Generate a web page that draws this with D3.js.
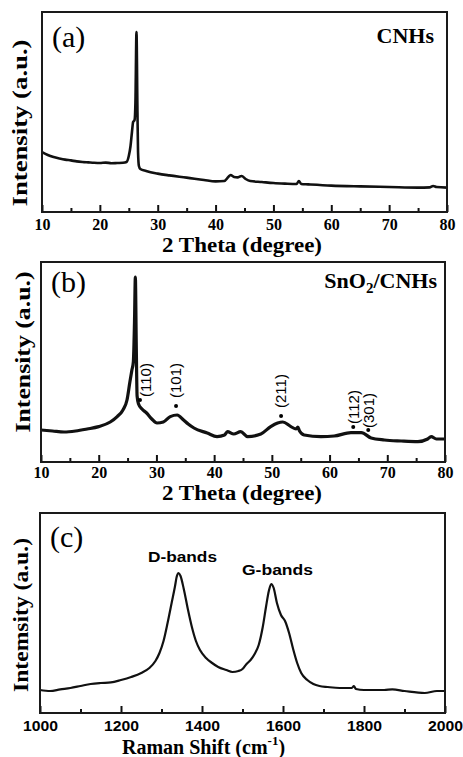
<!DOCTYPE html>
<html><head><meta charset="utf-8">
<script src="https://cdn.jsdelivr.net/npm/d3@7"></script>
<style>html,body{margin:0;padding:0;background:#fff;}</style>
</head><body>
<script>
// ---------- DATA ----------
// (a) XRD of CNHs: [2theta, intensity a.u.]
const xrdCNHs = [
 [10,30],[11,28.5],[12,27.5],[13,26.8],[14,26.2],[15,25.8],[16,25.3],[17,25],[18,24.8],[19,24.6],
 [20,24.5],[21,24.7],[22,24.4],[23,24.5],[24,24.6],[24.6,25],[25.0,28],[25.3,33],[25.55,40],[25.75,45],
 [26.0,46],[26.15,55],[26.33,90],[26.5,50],[26.6,30],[26.75,23],[27.0,21.5],[28,20.5],[30,19.2],[32,18.3],
 [35,17.2],[38,16],[40,15.3],[41.5,15.5],[42.2,17.5],[42.6,18.5],[43.2,17.5],[43.8,17.3],[44.5,18],[45.2,16.5],
 [46,15.5],[48,15],[50,14.5],[52,14.2],[54,14],[54.4,15.5],[54.8,14],[56,13.8],[60,13.2],[65,12.8],
 [70,12.5],[75,12.2],[77,12.3],[77.6,13],[78.2,12.5],[80,12.2]
];
// (b) XRD of SnO2/CNHs
const xrdSnO2 = [
 [10,16],[12,15.5],[14,15],[16,15.5],[18,16.5],[20,17.7],[22,20],[23.2,22.7],[24.2,26],[24.9,31],
 [25.4,40],[25.75,46],[26.0,50],[26.2,70],[26.35,92.5],[26.5,60],[26.65,33],[26.9,29],[27.5,26.5],[28.3,24.5],
 [29.2,21.5],[30.1,19.5],[31.2,20],[32.4,22.7],[33.6,23.5],[34.7,21],[35.5,19],[36.5,17],[38.8,14.5],[40.5,12.7],
 [41.8,13.5],[42.3,15.2],[43.4,14],[44.6,15.2],[45.8,12.7],[48.1,14],[49.8,17.7],[51,19.5],[51.9,20],[53.3,17.7],
 [54.2,16.5],[54.5,17.5],[54.8,15.5],[55.6,13.5],[58.5,12.7],[60.8,13],[63.7,14.7],[65.5,14.7],[67.2,12],[69.5,11],
 [72.4,10.5],[75.3,10.2],[77,11.5],[77.6,12.7],[78.5,11.5],[80,11.5]
];
// SnO2 reflections: label, 2theta and intensity of marker
const hklLabels = ["(110)","(101)","(211)","(112)","(301)"];
const hklTheta  = [27.15, 33.4, 51.6, 64.1, 66.7];
const hklInt    = [31, 28, 23, 17.5, 16];
// (c) Raman: [shift cm-1, intensity]
const raman = [
 [1000,11.5],[1025,11],[1050,11.8],[1075,12.5],[1100,13.5],[1125,14.5],[1150,15],[1175,15.3],[1200,16.5],[1225,18],
 [1250,20],[1270,22.5],[1285,26],[1295,30],[1305,36],[1315,45],[1325,55],[1333,63],[1338,68.5],[1342,70],
 [1347,68.5],[1355,62],[1365,52],[1375,43],[1385,36],[1395,31.5],[1410,27.5],[1425,25],[1440,23],[1460,21.5],
 [1475,20.5],[1490,21],[1500,22],[1510,24.5],[1520,26.5],[1530,29.5],[1540,34],[1550,43],[1558,53],[1565,61],
 [1571,64.5],[1577,62.5],[1585,55],[1595,49],[1605,46],[1615,40],[1625,32],[1635,25],[1645,20],[1660,16.5],
 [1675,14.5],[1690,13.5],[1710,13],[1740,12.5],[1770,12.5],[1775,13.5],[1780,12],[1800,11.5],[1850,11.5],[1870,11.8],
 [1900,11],[1950,10],[1980,11],[2000,11]
];
const xrdMajorTicks = [10,20,30,40,50,60,70,80];
const xrdMinorTicks = [15,25,35,45,55,65,75];
const ramanMajorTicks = [1000,1200,1400,1600,1800,2000];
const ramanMinorTicks = [1100,1300,1500,1700,1900];

// ---------- DRAW ----------
const W = 463, H = 757;
const svg = d3.select("body").append("svg").attr("width", W).attr("height", H);
svg.append("rect").attr("width", W).attr("height", H).attr("fill", "#fff");

const SERIF = "'Liberation Serif','Times New Roman',serif";
const SANS = "'Liberation Sans',Arial,sans-serif";

function panel(o) {
  const x = d3.scaleLinear().domain(o.xdom).range([o.x0, o.x1]);
  const y = d3.scaleLinear().domain([0, 100]).range([o.y1, o.y0]);
  const g = svg.append("g");
  g.append("path").datum(o.data)
    .attr("fill", "none").attr("stroke", "#111").attr("stroke-width", o.lw)
    .attr("stroke-linejoin", "round")
    .attr("d", d3.line().x(d => x(d[0])).y(d => y(d[1])).curve(d3.curveMonotoneX));
  g.append("g").attr("transform", `translate(0,${o.y1})`)
    .call(d3.axisBottom(x).tickValues(o.minor).tickSize(-4).tickFormat(""))
    .call(s => { s.select(".domain").remove(); s.selectAll("line").attr("stroke", "#111").attr("stroke-width", 2); });
  const ax = g.append("g").attr("transform", `translate(0,${o.y1})`)
    .call(d3.axisBottom(x).tickValues(o.major).tickSize(-7).tickPadding(0).tickFormat(d3.format("d")));
  ax.attr("font-size", null).attr("font-family", null);
  ax.select(".domain").remove();
  ax.selectAll("line").attr("stroke", "#111").attr("stroke-width", 2);
  ax.selectAll("text").attr("y", o.tickY).attr("dy", 0)
    .style("font-family", o.tickFont).style("font-weight", "bold").style("font-size", o.tickSize + "px")
    .attr("fill", "#000");
  if (o.tickLen) ax.selectAll("text").attr("textLength", o.tickLen).attr("lengthAdjust", "spacingAndGlyphs");
  g.append("rect").attr("x", o.x0).attr("y", o.y0).attr("width", o.x1 - o.x0).attr("height", o.y1 - o.y0)
    .attr("fill", "none").attr("stroke", "#1a1a1a").attr("stroke-width", 2);
  g.append("text").attr("transform", `translate(${o.ylx},${o.yly}) rotate(-90)`)
    .attr("text-anchor", "middle").attr("font-family", SERIF).attr("font-weight", "bold")
    .attr("font-size", 21).attr("textLength", o.ylLen).attr("lengthAdjust", "spacingAndGlyphs")
    .text(o.ylabel);
  g.append("text").attr("x", o.x0 + 10).attr("y", o.letterY).attr("font-family", SERIF)
    .attr("font-size", 30).attr("fill", "#000").text(o.letter);
  return {g, x, y};
}

// (a)
const pa = panel({x0: 42, x1: 447, y0: 12, y1: 212, xdom: [10, 80], data: xrdCNHs, lw: 2.6,
  major: xrdMajorTicks, minor: xrdMinorTicks, tickY: 18, tickFont: SERIF, tickSize: 16,
  ylabel: "Intensity (a.u.)", ylx: 27, yly: 123, ylLen: 167, letter: "(a)", letterY: 47});
pa.g.append("text").attr("x", 434).attr("y", 43).attr("text-anchor", "end")
  .attr("font-family", SERIF).attr("font-weight", "bold").attr("font-size", 22).text("CNHs");
pa.g.append("text").attr("x", 242).attr("y", 252).attr("text-anchor", "middle")
  .attr("font-family", SERIF).attr("font-weight", "bold").attr("font-size", 20)
  .attr("textLength", 160).attr("lengthAdjust", "spacingAndGlyphs").text("2 Theta (degree)");

// (b)
const pb = panel({x0: 41, x1: 445, y0: 262, y1: 462, xdom: [10, 80], data: xrdSnO2, lw: 3.2,
  major: xrdMajorTicks, minor: xrdMinorTicks, tickY: 16, tickFont: SERIF, tickSize: 16,
  ylabel: "Intensity (a.u.)", ylx: 30, yly: 352, ylLen: 161, letter: "(b)", letterY: 292});
const tb = pb.g.append("text").attr("x", 437).attr("y", 288).attr("text-anchor", "end")
  .attr("font-family", SERIF).attr("font-weight", "bold").attr("font-size", 22);
tb.append("tspan").text("SnO");
tb.append("tspan").attr("font-size", 15).attr("dy", 5).text("2");
tb.append("tspan").attr("dy", -5).text("/CNHs");
pb.g.append("text").attr("x", 242).attr("y", 500).attr("text-anchor", "middle")
  .attr("font-family", SERIF).attr("font-weight", "bold").attr("font-size", 20)
  .attr("textLength", 160).attr("lengthAdjust", "spacingAndGlyphs").text("2 Theta (degree)");
const labelDx = [7.5, 0.5, 0.5, 1.5, 1.5];
const labelDy = [-3, -8, -8, -3, -2];
hklLabels.forEach((lab, i) => {
  const cx = pb.x(hklTheta[i]), cy = pb.y(hklInt[i]);
  pb.g.append("circle").attr("cx", cx).attr("cy", cy).attr("r", 2).attr("fill", "#000");
  pb.g.append("text")
    .attr("transform", `translate(${cx + labelDx[i] + 4},${cy + labelDy[i]}) rotate(-90)`)
    .attr("font-family", SANS).attr("font-size", 15).attr("fill", "#000").text(lab);
});

// (c)
const pc = panel({x0: 40, x1: 445, y0: 513, y1: 713, xdom: [1000, 2000], data: raman, lw: 2.2,
  major: ramanMajorTicks, minor: ramanMinorTicks, tickY: 18, tickFont: SANS, tickSize: 14.5, tickLen: 35,
  ylabel: "Intemsity (a.u.)", ylx: 28, yly: 615, ylLen: 154, letter: "(c)", letterY: 547});
pc.g.append("text").attr("x", 182.5).attr("y", 562).attr("text-anchor", "middle")
  .attr("font-family", SANS).attr("font-weight", "bold").attr("font-size", 15)
  .attr("textLength", 69).attr("lengthAdjust", "spacingAndGlyphs").text("D-bands");
pc.g.append("text").attr("x", 277.5).attr("y", 575).attr("text-anchor", "middle")
  .attr("font-family", SANS).attr("font-weight", "bold").attr("font-size", 15)
  .attr("textLength", 71).attr("lengthAdjust", "spacingAndGlyphs").text("G-bands");
const tc = pc.g.append("text").attr("x", 122).attr("y", 754)
  .attr("font-family", SERIF).attr("font-weight", "bold").attr("font-size", 20);
tc.append("tspan").text("Raman Shift (cm");
tc.append("tspan").attr("font-size", 13).attr("dy", -9).text("-1");
tc.append("tspan").attr("dy", 9).text(")");
</script>
</body></html>
